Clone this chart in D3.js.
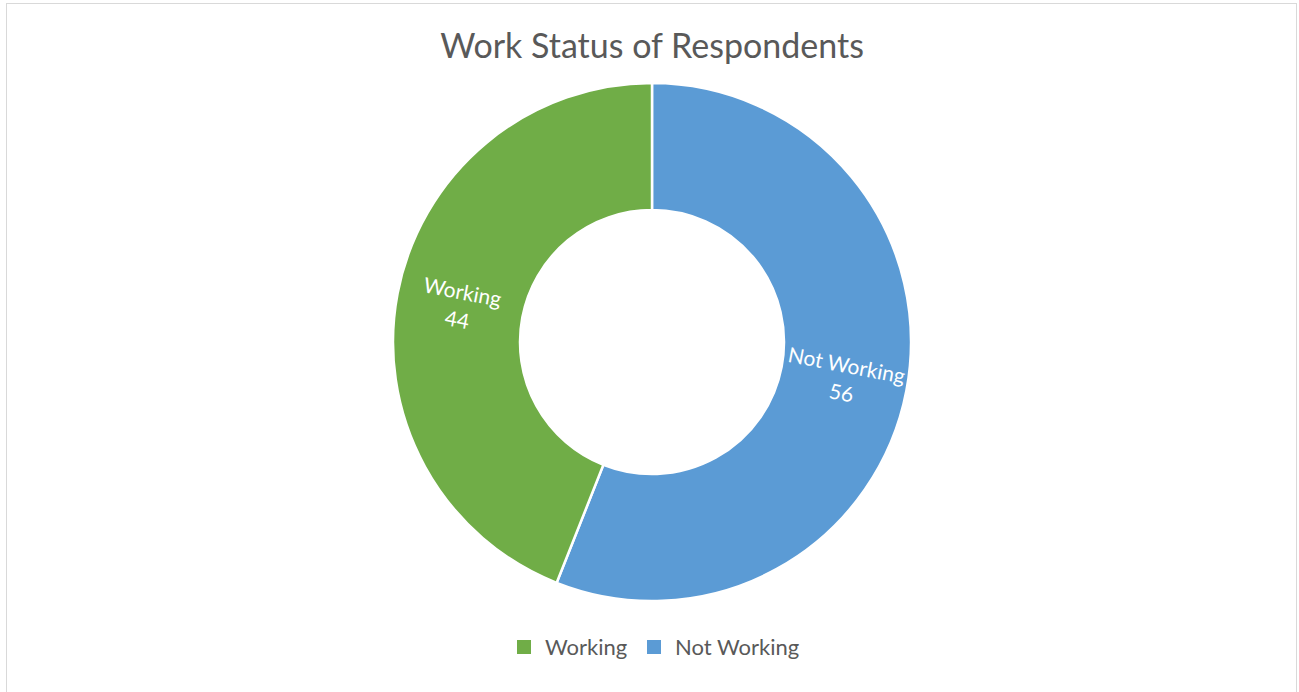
<!DOCTYPE html>
<html>
<head>
  <meta charset="utf-8">
  <title>Work Status of Respondents</title>
  <style>
    body { margin: 0; background: #fff; font-family: Lato, "Open Sans", sans-serif; }
    svg { display: block; }
  </style>
</head>
<body>
  <svg width="1299" height="692"></svg>

  <script src="https://d3js.org/d3.v7.min.js"></script>
  <script>
    // chart data
    var categories = ['Not Working', 'Working'];
    var values = [56, 44];
    var colors = ['#5B9BD5', '#70AD47'];
    var legendOrder = ['Working', 'Not Working'];

    var svg = d3.select('svg');
    var textColor = '#595959';

    // chart area border
    svg.append('rect')
      .attr('x', 6.5).attr('y', 3.5)
      .attr('width', 1290).attr('height', 700)
      .attr('fill', '#fff')
      .attr('stroke', '#d9d9d9');

    svg.append('text')
      .attr('x', 652).attr('y', 58)
      .attr('text-anchor', 'middle')
      .attr('fill', textColor)
      .style('font-size', '34px')
      .text('Work Status of Respondents');

    var cx = 652, cy = 342, outerR = 259, innerR = 132;
    var color = d3.scaleOrdinal().domain(categories).range(colors);

    var data = categories.map(function(c, i) { return { name: c, value: values[i] }; });
    var pie = d3.pie().sort(null).value(function(d) { return d.value; });
    var arc = d3.arc().innerRadius(innerR).outerRadius(outerR);

    var g = svg.append('g').attr('transform', 'translate(' + cx + ',' + cy + ')');
    var slices = pie(data);

    g.selectAll('path')
      .data(slices)
      .enter().append('path')
      .attr('d', arc)
      .attr('fill', function(d) { return color(d.data.name); })
      .attr('stroke', '#fff')
      .attr('stroke-width', 2.5);

    // labels, rotated along the radius like Excel does
    var labels = g.selectAll('g.label')
      .data(slices)
      .enter().append('g')
      .attr('class', 'label')
      .attr('transform', function(d) {
        var mid = (d.startAngle + d.endAngle) / 2;
        var p = arc.centroid(d);
        var deg = mid * 180 / Math.PI;
        var rot = deg < 180 ? deg - 90 : deg - 270;
        return 'translate(' + p[0] + ',' + p[1] + ') rotate(' + rot + ')';
      });

    labels.append('text')
      .attr('text-anchor', 'middle')
      .attr('fill', '#fff')
      .style('font-size', '21px')
      .selectAll('tspan')
      .data(function(d) { return [d.data.name, d.data.value]; })
      .enter().append('tspan')
      .attr('x', 0)
      .attr('y', function(d, i) { return i === 0 ? -6 : 22; })
      .text(function(d) { return d; });

    // legend
    var legendX = { 'Working': 517, 'Not Working': 647 };
    var legend = svg.selectAll('g.legend')
      .data(legendOrder)
      .enter().append('g')
      .attr('class', 'legend')
      .attr('transform', function(d) { return 'translate(' + legendX[d] + ',640)'; });

    legend.append('rect')
      .attr('width', 14).attr('height', 14)
      .attr('fill', function(d) { return color(d); });

    legend.append('text')
      .attr('x', 28).attr('y', 15)
      .attr('fill', textColor)
      .style('font-size', '22px')
      .text(function(d) { return d; });
  </script>
</body>
</html>
